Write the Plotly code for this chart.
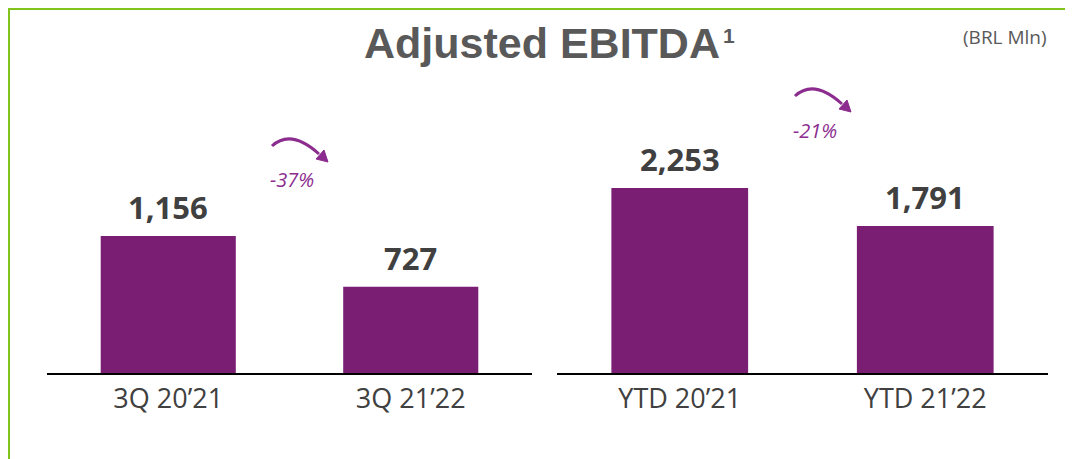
import plotly.graph_objects as go

# ---- data ----
quarter_labels = ["3Q 20\u201921", "3Q 21\u201922"]
quarter_values = [1156, 727]
ytd_labels = ["YTD 20\u201921", "YTD 21\u201922"]
ytd_values = [2253, 1791]
quarter_change = "-37%"
ytd_change = "-21%"
title_text = "Adjusted EBITDA"
title_sup = "1"
unit_text = "(BRL Mln)"

W, H = 1073, 459
OFF = 8  # page body margin offset
BAR = "#791E73"
ACC = "#8B2C8E"
GREEN = "#80C41C"
DARK = "#404040"
GREY = "#595959"
BODY = "Open Sans, Lato, sans-serif"
HEAD = "Liberation Sans, Arial, sans-serif"


def px(x):
    return (x - OFF) / W


def py(y):
    return 1 - (y - OFF) / H


fig = go.Figure()
fig.add_trace(go.Bar(x=quarter_labels, y=quarter_values, marker=dict(color=BAR, line=dict(width=0)),
                     xaxis="x", yaxis="y", hoverinfo="x+y"))
fig.add_trace(go.Bar(x=ytd_labels, y=ytd_values, marker=dict(color=BAR, line=dict(width=0)),
                     xaxis="x2", yaxis="y2", hoverinfo="x+y"))

ybot, ytop = 373, 60
axis_common = dict(showgrid=False, zeroline=False, showline=True, linecolor="#000000", linewidth=2,
                   ticks="", tickfont=dict(family=BODY, size=27, color=DARK), fixedrange=True,
                   ticklabelstandoff=1)
yaxis_common = dict(visible=False, fixedrange=True, domain=[py(ybot), py(ytop)])

annotations = []
for xa, labels, values in (("x", quarter_labels, quarter_values), ("x2", ytd_labels, ytd_values)):
    ya = "y" if xa == "x" else "y2"
    for lab, val in zip(labels, values):
        annotations.append(dict(x=lab, y=val, xref=xa, yref=ya, text=f"<b>{val:,}</b>", showarrow=False,
                                yanchor="bottom", yshift=6,
                                font=dict(family=BODY, size=31, color=DARK)))

# title
annotations.append(dict(x=px(722), y=py(43), xref="paper", yref="paper", text=f"<b>{title_text}</b>",
                        xanchor="right", yanchor="middle", showarrow=False,
                        font=dict(family=HEAD, size=43, color=GREY)))
annotations.append(dict(x=px(721), y=py(35), xref="paper", yref="paper", text=f"<b>{title_sup}</b>",
                        xanchor="left", yanchor="middle", showarrow=False,
                        font=dict(family=HEAD, size=21, color=GREY)))
annotations.append(dict(x=px(1005), y=py(37), xref="paper", yref="paper", text=unit_text,
                        xanchor="center", yanchor="middle", showarrow=False,
                        font=dict(family=BODY, size=19, color=GREY)))

shapes = [
    dict(type="line", xref="paper", yref="paper", x0=px(8), x1=1, y0=py(9), y1=py(9),
         line=dict(color=GREEN, width=2)),
    dict(type="line", xref="paper", yref="paper", x0=px(9), x1=px(9), y0=py(8), y1=0,
         line=dict(color=GREEN, width=2)),
]


def arrow(sx, sy, label):
    p0 = (sx, sy)
    c = (sx + 19, sy - 17.5)
    p2 = (sx + 47, sy + 8)
    tip = (sx + 56, sy + 16)
    b1 = (sx + 44, sy + 13)
    b2 = (sx + 52, sy + 4)
    shapes.append(dict(type="path", xref="paper", yref="paper",
                       path=f"M {px(p0[0])},{py(p0[1])} Q {px(c[0])},{py(c[1])} {px(p2[0])},{py(p2[1])}",
                       line=dict(color=ACC, width=3)))
    shapes.append(dict(type="path", xref="paper", yref="paper",
                       path=(f"M {px(tip[0])},{py(tip[1])} L {px(b1[0])},{py(b1[1])} "
                             f"L {px(b2[0])},{py(b2[1])} Z"),
                       fillcolor=ACC, line=dict(color=ACC, width=1)))
    annotations.append(dict(x=px(sx + 20), y=py(sy + 34), xref="paper", yref="paper",
                            text=f"<i>{label}</i>", showarrow=False, xanchor="center", yanchor="middle",
                            font=dict(family=BODY, size=20, color=ACC)))


arrow(272, 146, quarter_change)
arrow(795, 96, ytd_change)

fig.update_layout(
    width=W, height=H, margin=dict(l=0, r=0, t=0, b=0),
    paper_bgcolor="white", plot_bgcolor="white", showlegend=False, bargap=0.443,
    xaxis=dict(domain=[px(47), px(532)], anchor="y", **axis_common),
    xaxis2=dict(domain=[px(557), px(1048)], anchor="y2", **axis_common),
    yaxis=dict(range=[0, (ybot - ytop) / 0.11851], **yaxis_common),
    yaxis2=dict(range=[0, (ybot - ytop) / 0.08211], **yaxis_common),
    annotations=annotations, shapes=shapes,
)

fig.write_html("out.html", config={"displayModeBar": False})
